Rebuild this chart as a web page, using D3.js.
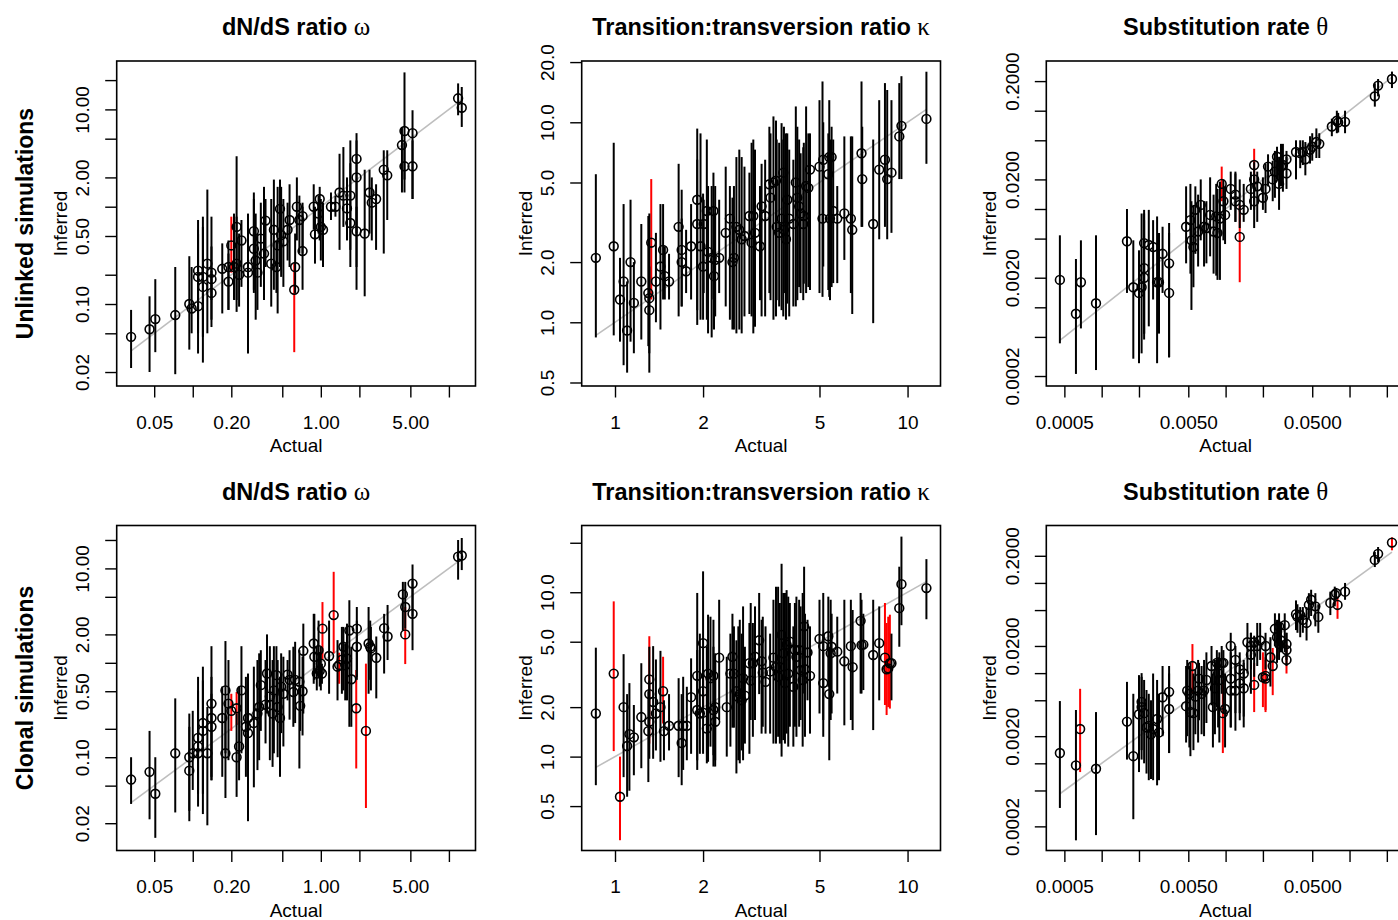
<!DOCTYPE html>
<html>
<head>
<meta charset="utf-8">
<script src="https://cdn.jsdelivr.net/npm/d3@7"></script>
<style>
  body { margin: 0; background: #fff; }
  text { font-family: 'Liberation Sans', Arial, Helvetica, sans-serif; fill: #000; }
</style>
</head>
<body>
<div id="chart"></div>
<script>
const WIDTH = 1398, HEIGHT = 920
const PW = 358.8, PH = 325
const TICK = 11.5

// ── data: [actual, inferred, lower, upper, flagged] ─────────────
const omegaUnlinked = [
  [0.033,0.046,0.022,0.087,0],[0.046,0.055,0.020,0.12,0],[0.051,0.070,0.032,0.18,0],[0.073,0.077,0.019,0.24,0],
  [0.094,0.10,0.034,0.31,0],[0.098,0.090,0.050,0.24,0],[0.11,0.22,0.050,0.73,0],[0.11,0.19,0.069,0.53,0],
  [0.11,0.095,0.031,0.58,0],[0.12,0.15,0.025,0.79,0],[0.12,0.19,0.046,0.62,0],[0.13,0.26,0.050,1.5,0],
  [0.14,0.18,0.058,0.39,0],[0.14,0.21,0.11,0.79,0],[0.14,0.13,0.069,0.22,0],[0.17,0.23,0.080,0.42,0],
  [0.19,0.24,0.087,0.45,0],[0.19,0.17,0.087,0.33,0],[0.20,0.40,0.21,0.79,1],[0.21,0.24,0.11,0.85,0],
  [0.22,0.62,0.11,3.3,0],[0.22,0.26,0.083,0.79,0],[0.23,0.20,0.094,0.53,0],[0.24,0.45,0.15,0.73,0],
  [0.27,0.24,0.13,0.85,0],[0.27,0.21,0.031,0.53,0],[0.30,0.56,0.13,1.4,0],[0.30,0.37,0.14,1.2,0],
  [0.31,0.28,0.069,0.85,0],[0.32,0.21,0.087,0.53,0],[0.34,0.47,0.15,1.1,0],[0.37,0.72,0.24,1.2,0],
  [0.36,0.33,0.11,1.6,0],[0.41,0.26,0.094,1.2,0],[0.43,0.58,0.14,1.9,0],[0.45,0.24,0.13,0.45,0],
  [0.46,0.40,0.080,1.6,0],[0.48,0.95,0.24,1.9,0],[0.49,0.51,0.19,1.6,0],[0.51,0.44,0.15,1.2,0],
  [0.55,0.58,0.28,1.1,0],[0.57,0.73,0.24,1.7,0],[0.63,0.24,0.13,0.53,0],[0.62,0.14,0.032,0.26,1],
  [0.65,1.0,0.45,2.0,0],[0.68,0.73,0.33,1.3,0],[0.72,0.80,0.33,1.1,0],[0.72,0.35,0.14,1.0,0],
  [0.88,1.0,0.58,1.7,0],[0.90,0.52,0.26,1.0,0],[0.96,0.85,0.53,1.3,0],[0.98,1.2,0.45,1.6,0],
  [1.0,0.62,0.28,1.2,0],[1.04,0.58,0.24,1.1,0],[1.2,1.0,0.73,1.4,0],[1.3,1.0,0.79,1.3,0],
  [1.4,1.4,0.36,3.5,0],[1.5,1.3,0.62,4.1,0],[1.6,0.96,0.45,2.0,0],[1.7,1.3,0.36,2.8,0],
  [1.7,0.68,0.24,4.8,0],[1.9,0.56,0.24,1.0,0],[1.9,3.1,0.53,5.7,0],[1.9,2.0,0.14,4.8,0],
  [2.2,0.53,0.12,2.4,0],[2.4,1.4,0.53,2.4,0],[2.5,1.1,0.45,2.0,0],[2.7,1.2,0.36,1.7,0],
  [3.1,2.4,0.33,3.8,0],[3.3,2.1,0.73,3.8,0],[4.3,4.3,1.4,6.6,0],[4.5,6.0,1.9,24,0],
  [4.5,2.6,1.4,4.5,0],[5.2,5.7,1.2,9.8,0],[5.2,2.6,1.2,4.8,0],[11.8,13,8.7,18.5,0],
  [12.6,10.4,6.6,17,0]
]

const kappaUnlinked = [
  [0.86,2.1,0.84,5.5,0],[0.99,2.4,0.86,7.9,0],[1.04,1.3,0.80,2.1,0],[1.07,1.6,0.61,3.9,0],
  [1.10,0.91,0.56,1.6,0],[1.13,2.0,0.80,4.1,0],[1.16,1.25,0.70,2.0,0],[1.23,1.6,0.82,3.1,0],
  [1.30,1.4,0.76,3.4,0],[1.31,1.15,0.56,3.5,0],[1.31,1.32,0.70,1.9,0],[1.33,2.5,1.3,5.2,1],
  [1.38,1.6,1.0,2.8,0],[1.43,1.9,0.92,3.9,0],[1.46,2.3,1.3,3.9,0],[1.48,1.7,1.3,2.4,0],
  [1.53,1.6,1.3,2.2,0],[1.65,3.0,1.07,6.2,0],[1.69,2.3,1.2,4.6,0],[1.69,2.0,1.2,3.3,0],
  [1.75,1.8,1.4,2.9,0],[1.82,2.4,1.3,3.9,0],[1.91,4.1,0.97,9.3,0],[1.91,3.1,1.15,6.5,0],
  [1.96,2.4,1.03,8.8,0],[2.0,1.9,1.03,4.4,0],[2.01,3.1,1.4,4.1,0],[2.06,3.6,1.03,8.2,0],
  [2.08,2.25,0.88,4.8,0],[2.14,2.1,0.84,4.8,0],[2.17,3.6,1.3,5.6,0],[2.18,1.7,0.92,3.5,0],
  [2.2,2.05,1.07,4.8,0],[2.27,2.1,1.4,4.1,0],[2.39,2.8,1.2,6.0,0],[2.47,3.3,1.03,4.8,0],
  [2.52,2.0,0.92,4.2,0],[2.55,2.1,0.92,4.8,0],[2.6,3.0,0.88,6.7,0],[2.66,2.9,0.92,7.3,0],
  [2.71,2.6,0.88,6.7,0],[2.77,2.7,1.07,6.0,0],[2.88,3.4,1.1,5.6,0],[2.93,2.5,1.07,7.9,0],
  [2.97,3.4,0.88,8.2,0],[3.01,2.8,0.95,7.3,0],[3.13,2.4,1.29,4.8,0],[3.17,3.8,1.07,6.2,0],
  [3.26,3.4,1.07,6.5,0],[3.37,4.9,1.4,9.5,0],[3.4,4.2,1.29,8.8,0],[3.48,5.0,1.03,10.7,0],
  [3.55,5.1,1.07,10.2,0],[3.57,3.0,1.29,8.2,0],[3.64,2.8,1.2,7.9,0],[3.71,3.3,1.15,9.9,0],
  [3.76,5.6,1.07,8.2,0],[3.78,2.9,1.4,9.5,0],[3.84,2.6,1.03,8.8,0],[3.88,4.1,1.24,8.8,0],
  [3.94,3.3,1.07,7.3,0],[4.07,3.1,1.2,6.5,0],[4.15,5.0,1.2,12,0],[4.2,4.2,1.29,9.5,0],
  [4.26,3.8,1.5,8.2,0],[4.31,3.5,1.4,7.0,0],[4.4,3.1,1.29,7.5,0],[4.42,3.4,1.56,7.9,0],
  [4.5,4.8,1.4,12,0],[4.58,4.7,1.5,8.8,0],[4.64,5.8,1.45,8.8,0],[5.0,6.0,1.4,12.9,0],
  [5.12,3.3,1.34,16,0],[5.15,6.5,1.9,10,0],[5.36,5.5,1.45,8.8,0],[5.4,6.7,1.34,12.9,0],
  [5.43,3.3,1.29,8.2,0],[5.5,6.7,1.5,9.5,0],[5.57,3.6,1.57,8.2,0],[5.75,3.3,1.57,4.8,0],
  [6.08,3.5,2.05,8.5,0],[6.4,3.3,1.4,8.5,0],[6.47,2.9,1.1,8.5,0],[6.96,7.0,3.0,16,0],
  [7.0,5.2,3.0,9.5,0],[7.63,3.1,0.99,8.2,0],[8.0,5.8,2.6,12.9,0],[8.37,6.5,3.0,15.7,0],
  [8.52,5.2,2.6,14.5,0],[8.81,5.6,2.8,12.9,0],[9.37,8.5,5.2,15.7,0],[9.53,9.6,5.2,17,0],
  [11.6,10.4,6.2,17.9,0]
]

const thetaUnlinked = [
  [0.00046,0.0019,0.00043,0.0054,0],[0.00062,0.00086,0.00021,0.0031,0],[0.00068,0.0018,0.00061,0.0048,0],
  [0.00090,0.0011,0.00023,0.0054,0],[0.0016,0.0047,0.0014,0.010,0],[0.0018,0.0016,0.00030,0.0048,0],
  [0.0020,0.0014,0.00027,0.0038,0],[0.0021,0.0016,0.00034,0.0090,0],[0.0022,0.0020,0.00054,0.0077,0],
  [0.0022,0.0025,0.00047,0.0090,0],[0.0022,0.0045,0.00054,0.0098,0],[0.0024,0.0043,0.00064,0.0098,0],
  [0.0026,0.0041,0.0012,0.0077,0],[0.0028,0.0018,0.00027,0.0084,0],[0.0029,0.0018,0.00054,0.0057,0],
  [0.0031,0.0035,0.0014,0.0066,0],[0.0035,0.0028,0.00031,0.0072,0],[0.0035,0.0014,0.00031,0.0057,0],
  [0.0048,0.0066,0.0028,0.017,0],[0.0052,0.0077,0.0022,0.018,0],[0.0053,0.0048,0.00094,0.012,0],
  [0.0055,0.0041,0.0016,0.011,0],[0.0057,0.0098,0.0035,0.017,0],[0.0060,0.0059,0.0026,0.014,0],
  [0.0063,0.011,0.0048,0.020,0],[0.0067,0.0066,0.0026,0.012,0],[0.0070,0.0064,0.0028,0.012,0],
  [0.0075,0.0087,0.0033,0.021,0],[0.0080,0.0059,0.0022,0.014,0],[0.0084,0.0084,0.0021,0.018,0],
  [0.0086,0.0057,0.0019,0.016,0],[0.0090,0.0080,0.0019,0.019,0],[0.0093,0.018,0.012,0.027,1],
  [0.0096,0.012,0.0048,0.020,0],[0.0099,0.0087,0.0044,0.017,0],[0.011,0.016,0.0098,0.024,0],
  [0.012,0.014,0.0074,0.023,0],[0.012,0.012,0.0074,0.024,0],[0.013,0.0052,0.0018,0.011,1],
  [0.013,0.011,0.0064,0.020,0],[0.014,0.0098,0.0074,0.018,0],[0.016,0.016,0.0098,0.024,0],
  [0.017,0.028,0.017,0.041,1],[0.017,0.020,0.0098,0.030,0],[0.017,0.012,0.0064,0.022,0],
  [0.018,0.017,0.0074,0.024,0],[0.020,0.013,0.0098,0.021,0],[0.021,0.016,0.0091,0.029,0],
  [0.022,0.027,0.017,0.036,0],[0.024,0.020,0.012,0.031,0],[0.025,0.024,0.013,0.039,0],
  [0.026,0.034,0.020,0.043,0],[0.027,0.018,0.0098,0.034,0],[0.028,0.027,0.017,0.046,0],
  [0.029,0.028,0.015,0.046,0],[0.031,0.032,0.025,0.039,0],[0.031,0.023,0.016,0.034,0],
  [0.037,0.038,0.020,0.050,0],[0.040,0.037,0.026,0.050,0],[0.042,0.038,0.028,0.050,0],
  [0.044,0.032,0.022,0.048,0],[0.048,0.040,0.029,0.055,0],[0.050,0.043,0.031,0.059,0],
  [0.054,0.048,0.033,0.066,0],[0.057,0.046,0.033,0.059,0],[0.072,0.069,0.055,0.083,0],
  [0.079,0.079,0.059,0.10,0],[0.081,0.076,0.060,0.095,0],[0.092,0.077,0.059,0.10,0],
  [0.16,0.14,0.11,0.19,0],[0.17,0.18,0.14,0.21,0],[0.22,0.21,0.17,0.25,0]
]

const omegaClonal = [
  [0.033,0.058,0.032,0.10,0],[0.046,0.070,0.022,0.19,0],[0.051,0.041,0.014,0.10,0],[0.073,0.11,0.026,0.42,0],
  [0.094,0.10,0.021,0.29,0],[0.094,0.072,0.027,0.21,0],[0.10,0.11,0.045,0.31,0],[0.11,0.16,0.041,0.51,0],
  [0.11,0.13,0.045,0.40,0],[0.11,0.11,0.030,0.71,0],[0.12,0.19,0.025,0.91,0],[0.12,0.23,0.041,0.65,0],
  [0.13,0.11,0.019,0.34,0],[0.14,0.26,0.057,0.71,0],[0.14,0.37,0.057,1.5,0],[0.14,0.21,0.062,0.47,0],
  [0.17,0.26,0.062,0.56,0],[0.18,0.51,0.11,1.7,0],[0.18,0.11,0.037,0.29,0],[0.19,0.37,0.093,1.07,0],
  [0.20,0.31,0.19,0.47,1],[0.22,0.33,0.22,0.49,1],[0.22,0.10,0.038,0.29,0],[0.23,0.13,0.057,0.56,0],
  [0.24,0.51,0.11,1.5,0],[0.26,0.21,0.062,0.71,0],[0.27,0.26,0.079,0.77,0],[0.27,0.18,0.021,0.51,0],
  [0.30,0.23,0.048,0.91,0],[0.32,0.29,0.073,1.07,0],[0.33,0.34,0.093,1.26,0],[0.34,0.58,0.19,1.36,0],
  [0.37,0.36,0.14,1.07,0],[0.38,0.77,0.29,2.0,0],[0.40,0.44,0.093,1.5,0],[0.42,0.29,0.079,1.07,0],
  [0.43,0.51,0.11,1.5,0],[0.45,0.74,0.27,1.5,0],[0.46,0.34,0.10,1.07,0],[0.48,0.26,0.062,0.71,0],
  [0.49,0.56,0.18,1.26,0],[0.51,0.47,0.13,1.16,0],[0.55,0.75,0.40,1.07,0],[0.57,0.66,0.25,1.36,0],
  [0.61,0.49,0.21,1.48,0],[0.63,0.66,0.23,1.67,0],[0.68,0.63,0.076,1.36,0],[0.69,0.35,0.19,0.56,0],
  [0.72,0.50,0.17,1.16,0],[0.73,1.34,0.29,2.6,0],[0.88,1.6,0.60,3.3,0],[0.89,1.16,0.66,3.3,0],
  [0.93,0.77,0.51,1.48,0],[0.96,1.36,0.71,2.8,0],[0.98,0.82,0.56,1.3,0],[1.0,0.98,0.51,1.48,0],
  [1.02,0.77,0.60,0.98,0],[1.03,2.3,1.07,4.4,1],[1.16,1.18,0.47,2.8,0],[1.26,3.2,1.26,9.2,1],
  [1.35,0.91,0.40,1.74,0],[1.39,0.95,0.60,1.28,1],[1.46,1.08,0.47,2.4,0],[1.50,1.48,0.51,2.4,0],
  [1.55,0.94,0.40,1.6,0],[1.6,1.11,0.40,2.6,0],[1.67,2.2,0.21,4.6,0],[1.73,0.67,0.21,1.48,0],
  [1.89,0.33,0.076,0.84,1],[1.91,2.3,0.66,3.9,0],[1.91,1.48,0.71,2.8,0],[2.25,0.19,0.029,0.98,1],
  [2.36,1.6,0.47,3.9,0],[2.43,1.48,0.66,2.8,0],[2.46,1.42,0.51,2.4,0],[2.71,1.13,0.42,1.9,0],
  [3.12,2.33,0.77,3.3,0],[3.32,1.9,1.07,4.1,0],[4.37,5.3,2.2,7.2,0],[4.56,3.9,2.3,7.2,0],
  [4.56,2.0,0.97,3.9,1],[5.2,6.9,3.1,11,0],[5.2,3.3,1.36,7.5,0],[11.8,13.3,7.6,20,0],
  [12.6,13.7,9.6,21,0]
]

const kappaClonal = [
  [0.86,1.83,0.67,4.6,0],[0.99,3.2,1.08,8.8,1],[1.04,0.57,0.31,1.0,1],[1.07,2.0,0.75,4.2,0],
  [1.10,1.16,0.57,2.4,0],[1.12,1.37,0.62,2.8,0],[1.16,1.31,0.77,2.06,0],[1.23,1.74,0.85,3.7,0],
  [1.30,1.43,0.70,2.5,0],[1.31,2.95,1.66,4.66,0],[1.31,2.4,1.2,5.4,1],[1.31,1.63,0.97,2.9,0],
  [1.35,2.15,0.97,4.7,0],[1.38,1.83,1.09,3.9,0],[1.43,2.0,0.93,4.4,0],[1.46,2.5,1.59,4.05,1],
  [1.47,1.43,0.95,2.2,0],[1.53,1.54,1.09,2.4,0],[1.65,1.54,0.75,3.0,0],[1.69,1.21,0.67,2.4,0],
  [1.71,1.54,0.83,3.06,0],[1.76,1.54,0.95,2.66,0],[1.82,2.3,1.04,3.96,0],[1.91,3.1,0.95,9.9,0],
  [1.91,1.92,0.83,4.45,0],[1.95,1.83,1.04,5.6,0],[2.0,4.9,1.83,13.4,0],[2.0,2.5,2.0,3.06,1],
  [2.0,1.85,1.04,3.86,0],[2.06,1.48,0.91,4.66,0],[2.08,3.2,0.93,7.3,0],[2.12,3.0,1.15,7.1,0],
  [2.17,3.1,1.02,6.8,0],[2.17,1.92,0.87,4.66,0],[2.2,2.0,0.95,3.86,0],[2.2,1.63,0.87,4.25,0],
  [2.27,4.0,1.67,9.0,0],[2.41,2.0,1.0,4.05,0],[2.48,3.2,1.15,5.6,0],[2.52,4.05,1.5,7.4,0],
  [2.55,3.2,1.5,6.2,0],[2.6,2.5,0.79,5.1,0],[2.64,2.3,0.95,6.2,0],[2.67,2.4,0.91,6.8,0],
  [2.71,2.2,1.09,5.6,0],[2.74,3.0,0.95,8.2,0],[2.78,2.35,1.2,4.66,0],[2.88,3.7,1.04,6.5,0],
  [2.91,2.9,1.67,8.6,0],[2.96,3.7,1.32,6.5,0],[3.01,4.05,1.67,8.2,0],[3.11,5.1,2.4,9.9,0],
  [3.17,3.8,1.38,6.8,0],[3.2,3.24,1.52,7.1,0],[3.27,2.85,1.38,6.2,0],[3.39,3.3,1.38,5.6,0],
  [3.48,4.0,1.2,9.0,0],[3.55,3.5,1.2,10.8,0],[3.61,3.06,1.32,10.8,0],[3.66,3.5,1.2,8.6,0],
  [3.71,5.5,1.0,14.9,0],[3.76,4.25,1.26,9.9,0],[3.81,2.8,1.2,9.9,0],[3.86,4.8,1.38,10.3,0],
  [3.91,3.2,1.15,9.4,0],[3.96,5.0,1.52,8.6,0],[4.07,2.66,1.15,6.2,0],[4.12,4.45,1.52,8.6,0],
  [4.17,4.05,1.32,9.4,0],[4.26,4.45,1.52,9.0,0],[4.31,3.36,1.67,8.2,0],[4.38,2.92,1.15,9.9,0],
  [4.43,6.2,2.42,14.3,0],[4.46,3.4,1.32,7.4,0],[4.55,4.3,2.2,6.8,0],[4.64,3.1,1.38,6.2,0],
  [5.0,5.2,1.83,9.0,0],[5.15,4.7,1.67,9.9,0],[5.15,2.8,1.32,5.6,0],[5.36,5.4,2.66,9.4,0],
  [5.4,2.4,0.95,4.66,0],[5.46,4.25,1.67,9.0,0],[5.5,4.66,1.83,7.4,0],[5.75,4.35,2.42,7.1,0],
  [6.08,3.8,1.55,9.0,0],[6.4,4.7,1.67,9.0,0],[6.49,3.5,1.45,7.8,0],[6.91,6.7,2.42,9.9,0],
  [6.96,4.77,2.42,9.0,0],[7.06,4.8,2.54,7.4,0],[7.63,4.15,1.45,9.0,0],[8.0,4.9,2.2,8.2,0],
  [8.37,4.0,2.06,8.6,1],[8.48,3.4,1.79,6.5,1],[8.59,3.44,2.0,7.1,1],[8.7,3.7,1.96,7.3,1],
  [8.81,3.7,2.2,5.6,0],[9.37,8.0,4.66,14.3,0],[9.53,11.2,6.3,21.8,0],[11.6,10.6,6.85,15.9,0]
]

const thetaClonal = [
  [0.00046,0.0013,0.00032,0.0049,0],[0.00062,0.00095,0.00014,0.0039,0],[0.00067,0.0024,0.00080,0.0067,1],
  [0.00090,0.00087,0.00016,0.0037,0],[0.0016,0.0029,0.0011,0.0080,0],[0.0018,0.0012,0.00024,0.0059,0],
  [0.0020,0.0035,0.00080,0.0095,0],[0.0021,0.0048,0.0014,0.010,0],[0.0021,0.0042,0.0011,0.0091,0],
  [0.0022,0.0036,0.0010,0.0084,0],[0.0023,0.0025,0.00077,0.0065,0],[0.0024,0.0026,0.00065,0.0059,0],
  [0.0025,0.0021,0.00067,0.0050,0],[0.0026,0.0024,0.00065,0.0099,0],[0.0028,0.0031,0.00057,0.0084,0],
  [0.0029,0.0022,0.00065,0.0059,0],[0.0031,0.0054,0.0020,0.012,0],[0.0035,0.0062,0.0013,0.012,0],
  [0.0035,0.0040,0.0013,0.0099,0],[0.0048,0.0043,0.0017,0.012,0],[0.0049,0.0064,0.0020,0.014,0],
  [0.0051,0.0059,0.0015,0.012,0],[0.0052,0.0037,0.0012,0.013,0],[0.0054,0.012,0.0059,0.021,1],
  [0.0055,0.0036,0.0014,0.0099,0],[0.0057,0.0055,0.0021,0.011,0],[0.0060,0.0064,0.0017,0.014,0],
  [0.0061,0.0087,0.0030,0.013,0],[0.0064,0.0059,0.0021,0.012,0],[0.0067,0.0064,0.0020,0.014,0],
  [0.0070,0.0084,0.0028,0.017,0],[0.0077,0.012,0.0044,0.020,0],[0.0079,0.0042,0.0015,0.0099,0],
  [0.0082,0.0068,0.0021,0.014,0],[0.0085,0.013,0.0042,0.018,0],[0.0087,0.010,0.0025,0.015,0],
  [0.0089,0.0084,0.0017,0.017,0],[0.0093,0.013,0.0059,0.020,0],[0.0096,0.013,0.0036,0.018,0],
  [0.0095,0.0036,0.0013,0.0084,1],[0.0099,0.0040,0.0015,0.0099,0],[0.011,0.0064,0.0025,0.014,0],
  [0.011,0.020,0.0091,0.028,0],[0.011,0.0087,0.0025,0.017,0],[0.012,0.0064,0.0023,0.013,0],
  [0.012,0.014,0.0036,0.020,0],[0.013,0.011,0.0030,0.017,0],[0.013,0.0077,0.0036,0.012,0],
  [0.014,0.0099,0.0033,0.014,0],[0.014,0.0068,0.0025,0.013,0],[0.015,0.022,0.0099,0.036,0],
  [0.016,0.016,0.0059,0.028,0],[0.017,0.0074,0.0037,0.013,1],[0.016,0.020,0.011,0.028,0],
  [0.017,0.022,0.0091,0.026,0],[0.018,0.020,0.012,0.036,0],[0.019,0.023,0.014,0.036,0],
  [0.020,0.0090,0.0042,0.017,1],[0.021,0.0087,0.0039,0.014,1],[0.021,0.020,0.011,0.028,0],
  [0.021,0.0093,0.0037,0.015,1],[0.023,0.015,0.0071,0.025,0],[0.024,0.012,0.0057,0.019,1],
  [0.025,0.031,0.020,0.046,0],[0.026,0.025,0.013,0.039,0],[0.027,0.021,0.014,0.039,0],
  [0.027,0.033,0.020,0.046,0],[0.028,0.023,0.017,0.036,0],[0.030,0.034,0.017,0.046,0],
  [0.031,0.014,0.0099,0.021,1],[0.031,0.018,0.012,0.028,0],[0.031,0.021,0.014,0.028,0],
  [0.037,0.045,0.030,0.064,0],[0.038,0.042,0.028,0.058,0],[0.040,0.044,0.025,0.054,0],
  [0.042,0.039,0.028,0.054,0],[0.045,0.036,0.023,0.054,0],[0.047,0.057,0.040,0.077,0],
  [0.049,0.065,0.043,0.084,0],[0.053,0.055,0.033,0.077,0],[0.056,0.042,0.028,0.058,0],
  [0.070,0.060,0.044,0.080,0],[0.076,0.074,0.055,0.091,0],[0.078,0.077,0.066,0.088,0],
  [0.080,0.057,0.040,0.070,1],[0.092,0.080,0.065,0.10,0],[0.16,0.18,0.15,0.22,0],
  [0.17,0.21,0.17,0.25,0],[0.22,0.28,0.23,0.32,1]
]

// ── ticks and labels ─────────────────────────────────────────────
const omegaTicks    = [0.02, 0.05, 0.1, 0.2, 0.5, 1, 2, 5, 10, 20]
const omegaXLabels  = [0.05, 0.2, 1, 5]
const omegaYLabels  = [0.02, 0.1, 0.5, 2, 10]
const kappaTicks    = [0.5, 1, 2, 5, 10, 20]
const kappaXLabels  = [1, 2, 5, 10]
const kappaYLabels  = [0.5, 1, 2, 5, 10, 20]
const kappaYLabelsClonal = [0.5, 1, 2, 5, 10]
const thetaTicks    = [0.0002, 0.0005, 0.001, 0.002, 0.005, 0.01, 0.02, 0.05, 0.1, 0.2, 0.5]
const thetaXLabels  = [0.0005, 0.005, 0.05, 0.5]
const thetaYLabels  = [0.0002, 0.002, 0.02, 0.2]

const titles    = [['dN/dS ratio ', 'ω'], ['Transition:transversion ratio ', 'κ'], ['Substitution rate ', 'θ']]
const rowLabels = ['Unlinked simulations', 'Clonal simulations']

// ── layout ───────────────────────────────────────────────────────
const COL_X = [116.7, 581.7, 1046.3]
const ROW_Y = [61, 525.5]

const f2 = d3.format('.2f'), f1 = d3.format('.1f'), f4 = d3.format('.4f'), fi = d3.format('d')

const panels = [
  { row: 0, col: 0, data: omegaUnlinked, xDom: [0.02548, 16.13], yDom: [0.01437, 31.43],
    xTicks: omegaTicks, xLab: omegaXLabels, yTicks: omegaTicks, yLab: omegaYLabels, fx: f2, fy: f2 },
  { row: 0, col: 1, data: kappaUnlinked, xDom: [0.7694, 12.96], yDom: [0.4802, 20.25],
    xTicks: kappaTicks, xLab: kappaXLabels, yTicks: kappaTicks, yLab: kappaYLabels, fx: fi, fy: f1 },
  { row: 0, col: 2, data: thetaUnlinked, xDom: [0.0003574, 0.2808], yDom: [0.0001583, 0.3203],
    xTicks: thetaTicks, xLab: thetaXLabels, yTicks: thetaTicks, yLab: thetaYLabels, fx: f4, fy: f4 },
  { row: 1, col: 0, data: omegaClonal, xDom: [0.02548, 16.13], yDom: [0.01028, 28.47],
    xTicks: omegaTicks, xLab: omegaXLabels, yTicks: omegaTicks, yLab: omegaYLabels, fx: f2, fy: f2 },
  { row: 1, col: 1, data: kappaClonal, xDom: [0.7694, 12.96], yDom: [0.2684, 25.47],
    xTicks: kappaTicks, xLab: kappaXLabels, yTicks: kappaTicks, yLab: kappaYLabelsClonal, fx: fi, fy: f1 },
  { row: 1, col: 2, data: thetaClonal, xDom: [0.0003574, 0.2808], yDom: [0.000108, 0.4332],
    xTicks: thetaTicks, xLab: thetaXLabels, yTicks: thetaTicks, yLab: thetaYLabels, fx: f4, fy: f4 },
]

const svg = d3.select('#chart').append('svg')
  .attr('width', WIDTH).attr('height', HEIGHT)
  .attr('viewBox', `0 0 ${WIDTH} ${HEIGHT}`)

svg.append('rect').attr('width', WIDTH).attr('height', HEIGHT).attr('fill', '#fff')

function drawPanel(p) {
  const g = svg.append('g').attr('transform', `translate(${COL_X[p.col]},${ROW_Y[p.row]})`)
  const x = d3.scaleLog().domain(p.xDom).range([0, PW])
  const y = d3.scaleLog().domain(p.yDom).range([PH, 0])
  const inside = dom => v => v >= dom[0] && v <= dom[1]

  // identity line over the range of actual values
  const [lo, hi] = d3.extent(p.data, d => d[0])
  g.append('line')
    .attr('x1', x(lo)).attr('y1', y(lo)).attr('x2', x(hi)).attr('y2', y(hi))
    .attr('stroke', '#bebebe').attr('stroke-width', 1.6)

  // error bars (flagged ones underneath)
  const ordered = [...p.data.filter(d => d[4]), ...p.data.filter(d => !d[4])]
  g.append('g').selectAll('line').data(ordered).join('line')
    .attr('x1', d => x(d[0])).attr('x2', d => x(d[0]))
    .attr('y1', d => y(d[2])).attr('y2', d => y(d[3]))
    .attr('stroke', d => d[4] ? '#ff0000' : '#000')
    .attr('stroke-width', 2)

  g.append('g').selectAll('circle').data(p.data).join('circle')
    .attr('cx', d => x(d[0])).attr('cy', d => y(d[1])).attr('r', 4.4)
    .attr('fill', 'none').attr('stroke', '#000').attr('stroke-width', 1.6)

  g.append('rect').attr('width', PW).attr('height', PH)
    .attr('fill', 'none').attr('stroke', '#000').attr('stroke-width', 1.6)

  // ── axes ─────────────────────────────────────────────────────
  const xa = g.append('g').attr('transform', `translate(0,${PH})`)
    .call(d3.axisBottom(x).tickValues(p.xTicks.filter(inside(p.xDom)))
      .tickSize(TICK).tickSizeOuter(0)
      .tickFormat(v => p.xLab.includes(v) ? p.fx(v) : ''))
  xa.select('.domain').remove()
  xa.selectAll('line').attr('stroke', '#000').attr('stroke-width', 1.4)
  xa.selectAll('text').attr('y', 42.5).attr('dy', 0)
    .style('font-size', '19px').attr('fill', '#000')

  const ya = g.append('g')
    .call(d3.axisLeft(y).tickValues(p.yTicks.filter(inside(p.yDom)))
      .tickSize(TICK).tickSizeOuter(0)
      .tickFormat(v => p.yLab.includes(v) ? p.fy(v) : ''))
  ya.select('.domain').remove()
  ya.selectAll('line').attr('stroke', '#000').attr('stroke-width', 1.4)
  ya.selectAll('text').attr('x', 0).attr('dy', 0)
    .attr('transform', 'translate(-27.5,0) rotate(-90)')
    .attr('text-anchor', 'middle')
    .style('font-size', '19px').attr('fill', '#000')

  g.append('text').attr('x', PW / 2).attr('y', PH + 66)
    .attr('text-anchor', 'middle').style('font-size', '19px').text('Actual')

  g.append('text').attr('transform', `translate(-50,${PH / 2}) rotate(-90)`)
    .attr('text-anchor', 'middle').style('font-size', '19px').text('Inferred')

  const [label, greek] = titles[p.col]
  const t = g.append('text').attr('x', PW / 2).attr('y', -26)
    .attr('text-anchor', 'middle').style('font-size', '23.5px').style('font-weight', 'bold')
  t.append('tspan').text(label)
  t.append('tspan').style('font-family', "'Liberation Serif', 'DejaVu Serif', serif")
    .style('font-weight', 'normal').style('font-size', '25px').text(greek)
}

panels.forEach(drawPanel)

rowLabels.forEach((txt, i) => {
  svg.append('text')
    .attr('transform', `translate(33,${ROW_Y[i] + PH / 2}) rotate(-90)`)
    .attr('text-anchor', 'middle')
    .style('font-size', '23px').style('font-weight', 'bold')
    .text(txt)
})
</script>
</body>
</html>
